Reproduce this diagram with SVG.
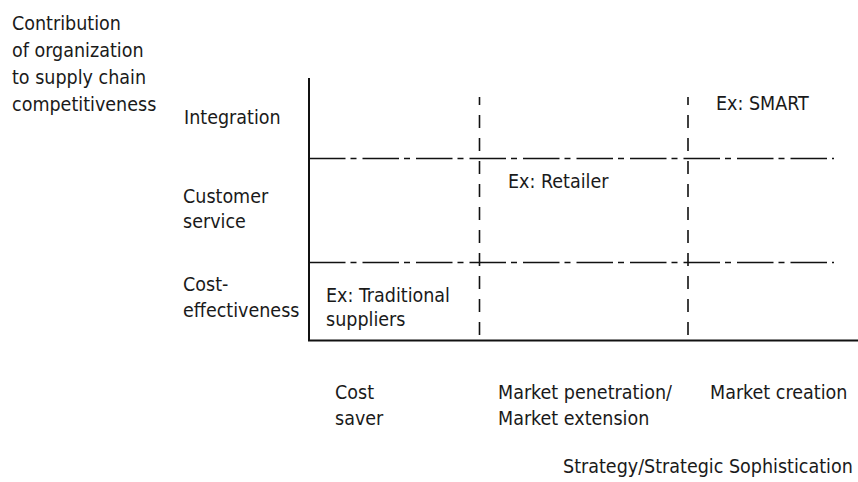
<svg xmlns="http://www.w3.org/2000/svg" width="858" height="482" viewBox="0 0 858 482">
  <style>
    text { font-family: "DejaVu Sans Condensed", "Liberation Sans", Arial, sans-serif; font-stretch: condensed; font-size: 19.5px; fill: #1a1a1a; }
    .axis { stroke: #111; stroke-width: 2; fill: none; }
    .row { stroke: #111; stroke-width: 1.6; fill: none; stroke-dasharray: 36.5 5 6 6; }
    .col { stroke: #111; stroke-width: 1.6; fill: none; stroke-dasharray: 13 10; }
  </style>

  <!-- grid lines and axes -->
  <g id="connectors">
    <line class="row" x1="309" y1="158.5" x2="834" y2="158.5"/>
    <line class="row" x1="309" y1="262.5" x2="834" y2="262.5"/>
    <line class="col" x1="479.5" y1="97" x2="479.5" y2="340" stroke-dashoffset="5"/>
    <line class="col" x1="688" y1="97" x2="688" y2="340" stroke-dashoffset="5"/>
    <line class="axis" x1="309" y1="78" x2="309" y2="341"/>
    <line class="axis" x1="308" y1="340.5" x2="858" y2="340.5"/>
  </g>

  <!-- vertical axis title -->
  <g id="y-title">
    <text x="12" y="30">Contribution</text>
    <text x="12" y="57">of organization</text>
    <text x="12" y="84">to supply chain</text>
    <text x="12" y="111">competitiveness</text>
  </g>

  <!-- row labels -->
  <g id="row-integration">
    <text x="184" y="124">Integration</text>
  </g>
  <g id="row-customer-service">
    <text x="183" y="203">Customer</text>
    <text x="183" y="228">service</text>
  </g>
  <g id="row-cost-effectiveness">
    <text x="183" y="291">Cost-</text>
    <text x="183" y="317">effectiveness</text>
  </g>

  <!-- examples placed in cells -->
  <g id="ex-traditional">
    <text x="326" y="302">Ex: Traditional</text>
    <text x="326" y="326">suppliers</text>
  </g>
  <g id="ex-retailer">
    <text x="508" y="188">Ex: Retailer</text>
  </g>
  <g id="ex-smart">
    <text x="716" y="110">Ex: SMART</text>
  </g>

  <!-- column labels -->
  <g id="col-cost-saver">
    <text x="335" y="399">Cost</text>
    <text x="335" y="425">saver</text>
  </g>
  <g id="col-market-penetration">
    <text x="498" y="399">Market penetration/</text>
    <text x="498" y="425">Market extension</text>
  </g>
  <g id="col-market-creation">
    <text x="710" y="399">Market creation</text>
  </g>

  <!-- horizontal axis title -->
  <g id="x-title">
    <text x="563" y="473">Strategy/Strategic Sophistication</text>
  </g>
</svg>
